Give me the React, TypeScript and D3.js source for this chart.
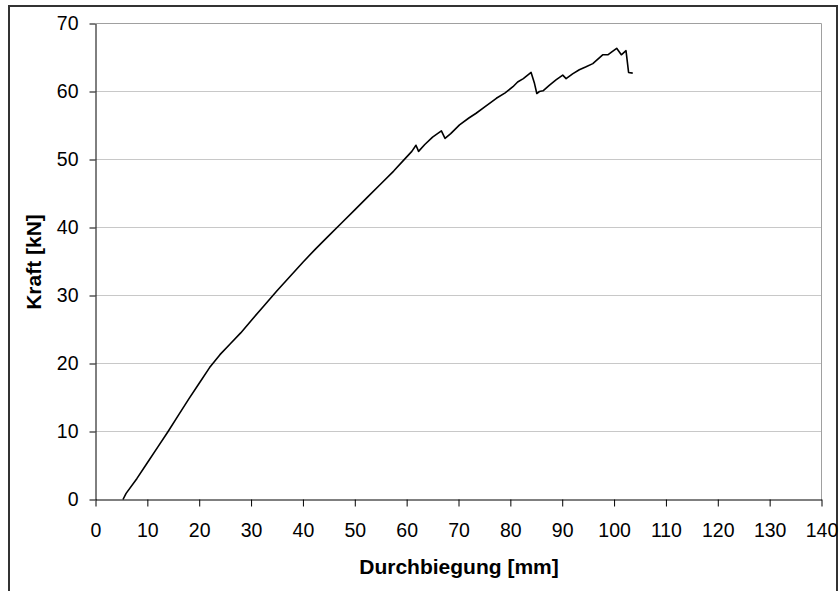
import React, { useEffect, useRef } from 'react';
import * as d3 from 'd3';

// Durchbiegung [mm] and Kraft [kN]
const deflection = [
  5.3, 5.9, 8, 10, 12, 14, 16, 18, 20, 22, 24, 26, 28, 30, 32.5, 35, 37.5, 40,
  42.5, 45, 47.5, 50, 52.5, 55, 57.5, 59.3, 61, 61.8, 62.3, 63.5, 65,
  66.7, 67.4, 68.5, 70.2, 72, 73.4, 75, 77.3, 79, 80.5, 81.4, 82.5, 84.0, 84.65,
  85.1, 85.6, 86.3, 87.5, 88.8, 90.1, 90.75, 92, 93.3, 94.5, 95.9, 97.8, 98.8,
  99.5, 100.5, 101.4, 102.3, 102.8, 103.6,
];
const force = [
  0, 0.9, 3.1, 5.4, 7.7, 10.0, 12.4, 14.8, 17.1, 19.4, 21.3, 22.9, 24.5, 26.3, 28.5,
  30.7, 32.8, 34.9, 36.9, 38.8, 40.7, 42.6, 44.5, 46.4, 48.3, 49.8, 51.2, 52.1, 51.2,
  52.2, 53.3, 54.2, 53.1, 53.8, 55.1, 56.1, 56.8, 57.7, 59.0, 59.8, 60.7, 61.4, 61.9,
  62.8, 61.2, 59.7, 60.0, 60.1, 60.9, 61.7, 62.4, 61.9, 62.6, 63.2, 63.6, 64.1, 65.4,
  65.4, 65.8, 66.35, 65.4, 66.0, 62.8, 62.7,
];
const xTicks = d3.range(0, 141, 10);
const yTicks = d3.range(0, 71, 10);

const W = 840;
const H = 591;
const FONT = 'Arial, "Liberation Sans", sans-serif';

export default function App() {
  const ref = useRef<SVGSVGElement>(null);

  useEffect(() => {
    const svg = d3.select(ref.current);
    svg.selectAll('*').remove();

    const x = d3.scaleLinear().domain([0, 140]).range([95.5, 821.5]);
    const y = d3.scaleLinear().domain([0, 70]).range([499.5, 23.5]);

    svg.append('rect')
      .attr('width', W).attr('height', H).attr('fill', '#fff');

    // outer chart frame (bottom edge is cut by the picture)
    svg.append('rect')
      .attr('x', 9).attr('y', 6)
      .attr('width', 828).attr('height', 600)
      .attr('fill', 'none').attr('stroke', '#333').attr('stroke-width', 2);

    // grid lines
    svg.append('g')
      .selectAll('line')
      .data(yTicks.filter((d) => d > 0 && d < 70))
      .join('line')
      .attr('x1', x(0)).attr('x2', x(140))
      .attr('y1', (d) => y(d)).attr('y2', (d) => y(d))
      .attr('stroke', '#c8c8c8').attr('stroke-width', 1);

    // plot area border (top / right)
    svg.append('path')
      .attr('d', `M${x(0)},${y(70)}H${x(140)}V${y(0)}`)
      .attr('fill', 'none').attr('stroke', '#a0a0a0').attr('stroke-width', 1);

    // y axis
    const gy = svg.append('g')
      .attr('transform', `translate(${x(0)},0)`)
      .call(d3.axisLeft(y).tickValues(yTicks).tickSize(6).tickSizeOuter(0).tickPadding(11));
    gy.select('.domain').attr('stroke', '#000');
    gy.selectAll('.tick line').attr('stroke', '#000');
    gy.selectAll('.tick text')
      .attr('font-family', FONT).attr('font-size', 19.5).attr('fill', '#000');

    // x axis
    const gx = svg.append('g')
      .attr('transform', `translate(0,${y(0)})`)
      .call(d3.axisBottom(x).tickValues(xTicks).tickSize(7).tickSizeOuter(0));
    gx.select('.domain').attr('stroke', '#000');
    gx.selectAll('.tick line').attr('stroke', '#000');
    gx.selectAll('.tick text')
      .attr('font-family', FONT).attr('font-size', 19.5).attr('fill', '#000')
      .attr('y', 37).attr('dy', 0);

    // curve
    const pts: [number, number][] = deflection.map((d, i) => [d, force[i]]);
    svg.append('path')
      .datum(pts)
      .attr('fill', 'none')
      .attr('stroke', '#000')
      .attr('stroke-width', 1.6)
      .attr('stroke-linejoin', 'round')
      .attr('d', d3.line<[number, number]>()
        .x((d) => x(d[0]))
        .y((d) => y(d[1])));

    // axis titles
    svg.append('text')
      .attr('x', 459).attr('y', 574)
      .attr('text-anchor', 'middle')
      .attr('font-family', FONT).attr('font-size', 21).attr('font-weight', 'bold')
      .text('Durchbiegung [mm]');

    svg.append('text')
      .attr('transform', 'translate(41,262) rotate(-90)')
      .attr('text-anchor', 'middle')
      .attr('font-family', FONT).attr('font-size', 21).attr('font-weight', 'bold')
      .text('Kraft [kN]');
  }, []);

  return (
    <svg
      ref={ref}
      width={W}
      height={H}
      style={{ position: 'absolute', left: 0, top: 0, display: 'block' }}
    />
  );
}
